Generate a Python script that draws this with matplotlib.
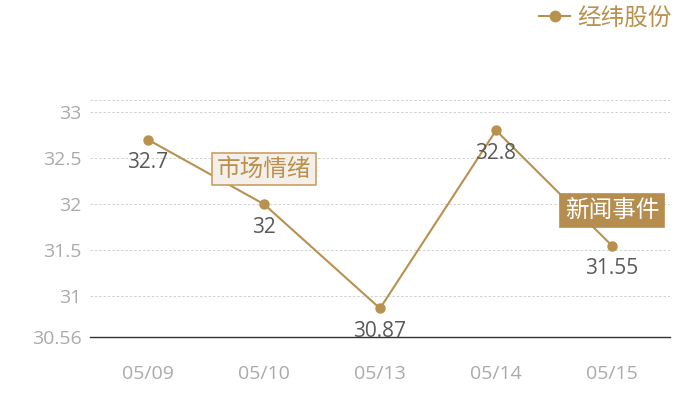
import matplotlib
matplotlib.use("Agg")
import matplotlib.pyplot as plt
from matplotlib.lines import Line2D

plt.rcParams['font.family'] = ['Open Sans', 'Noto Sans CJK SC', 'DejaVu Sans']

# --- data ---
dates = ["05/09", "05/10", "05/13", "05/14", "05/15"]
prices = [32.7, 32.0, 30.87, 32.8, 31.55]
price_labels = ["32.7", "32", "30.87", "32.8", "31.55"]
series_name = "经纬股份"
yticks = [30.56, 31, 31.5, 32, 32.5, 33]
ytick_labels = ["30.56", "31", "31.5", "32", "32.5", "33"]
y_min, y_max = 30.56, 33.13
# event markers: (category index, text)
events = [(1, "市场情绪"), (4, "新闻事件")]

gold = "#b8914f"
cjk = ['Noto Sans CJK SC', 'DejaVu Sans']

fig = plt.figure(figsize=(7, 4), dpi=100)
ax = fig.add_axes([90 / 700, 1 - 337 / 400, 580 / 700, 237 / 400])

x = list(range(len(dates)))
ax.plot(x, prices, color=gold, lw=1.5, marker="o", ms=6.5, zorder=3)

for i, (p, lab) in enumerate(zip(prices, price_labels)):
    ax.annotate(lab, (i, p), xytext=(0, -23), textcoords="offset pixels",
                ha="center", va="center", fontsize=15, color="#595959", zorder=4)

# event boxes
ev_idx, ev_text = events[0]
ax.annotate(ev_text, (ev_idx, prices[ev_idx]), xytext=(0, 35), textcoords="offset pixels",
            ha="center", va="center", fontsize=17, color=gold, zorder=5, family=cjk,
            bbox=dict(boxstyle="square,pad=0.2", fc="#f4efe8", ec="#c9a062", lw=1.2))
ev_idx, ev_text = events[1]
ax.annotate(ev_text, (ev_idx, prices[ev_idx]), xytext=(0, 35), textcoords="offset pixels",
            ha="center", va="center", fontsize=17, color="white", zorder=5, family=cjk,
            bbox=dict(boxstyle="square,pad=0.2", fc="#b58e4f", ec="#b58e4f", lw=1.2))

ax.set_xlim(-0.5, len(dates) - 0.5)
ax.set_ylim(y_min, y_max)
ax.set_xticks(x)
ax.set_xticklabels(dates)
ax.set_yticks(yticks)
ax.set_yticklabels(ytick_labels)
ax.tick_params(axis="both", length=0, colors="#aaaaaa", labelsize=14)
ax.tick_params(axis="x", pad=20)
ax.tick_params(axis="y", pad=6)

for t in yticks[1:] + [y_max]:
    ax.axhline(t, color="#d0d0d0", lw=0.7, ls=(0, (2.5, 2)), zorder=1)

for s in ["top", "right", "left"]:
    ax.spines[s].set_visible(False)
ax.spines["bottom"].set_color("#333333")
ax.spines["bottom"].set_linewidth(1)

handle = Line2D([0], [0], color=gold, lw=1.5, marker="o", ms=7.5)
fig.legend([handle], [series_name], loc="center right", bbox_to_anchor=(693 / 700, 1 - 18 / 400),
           frameon=False, prop={"family": cjk, "size": 17}, labelcolor=gold,
           handlelength=1.3, handletextpad=0.3)

fig.savefig("out.png", dpi=100)
